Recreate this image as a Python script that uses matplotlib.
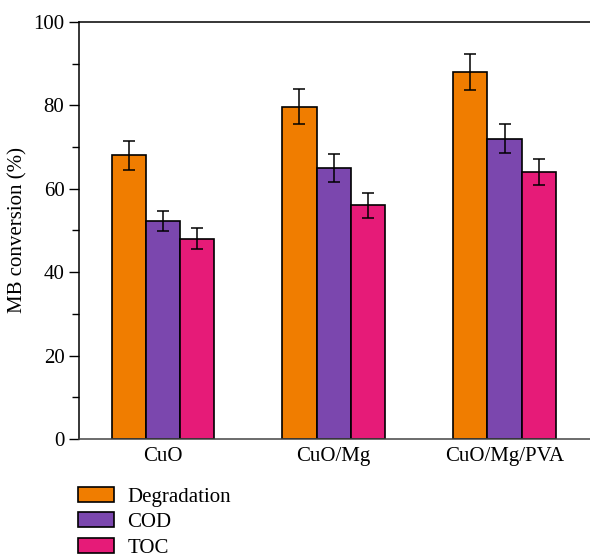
import numpy as np
import matplotlib
matplotlib.use("Agg")
import matplotlib.pyplot as plt
from matplotlib.ticker import MultipleLocator

plt.rcParams["font.family"] = ["Liberation Serif", "DejaVu Serif"]

catalysts = ["CuO", "CuO/Mg", "CuO/Mg/PVA"]
series = ["Degradation", "COD", "TOC"]
degradation = [68, 79.7, 88]
degradation_err = [3.5, 4.2, 4.3]
cod = [52.2, 65, 72]
cod_err = [2.4, 3.4, 3.5]
toc = [48, 56, 64]
toc_err = [2.5, 2.9, 3.1]
colors = ["#F07D00", "#7B47AE", "#E61B78"]

fig = plt.figure(figsize=(5.9, 5.59), dpi=100)
ax = fig.add_axes([0.134, 0.2147, 0.866, 0.746])

x = np.arange(len(catalysts))
w = 0.2
vals = [degradation, cod, toc]
errs = [degradation_err, cod_err, toc_err]
for i, (v, e) in enumerate(zip(vals, errs)):
    ax.bar(x + (i - 1) * w, v, w, color=colors[i], edgecolor="black",
           linewidth=1.2, label=series[i], zorder=2,
           yerr=e, capsize=4.5,
           error_kw=dict(ecolor="black", elinewidth=1.1, capthick=1.1))

ax.set_xlim(-0.49, 2.5)
ax.set_ylim(0, 100)
ax.set_xticks(x)
ax.set_xticklabels(catalysts, fontsize=15)
ax.tick_params(axis="x", length=0, pad=6)
ax.yaxis.set_major_locator(MultipleLocator(20))
ax.yaxis.set_minor_locator(MultipleLocator(10))
ax.tick_params(axis="y", which="major", direction="out", length=7, width=1, labelsize=15)
ax.tick_params(axis="y", which="minor", direction="out", length=5, width=1)
ax.set_ylabel("MB conversion (%)", fontsize=15, labelpad=4)
ax.spines["right"].set_visible(False)
for s in ["left", "bottom", "top"]:
    ax.spines[s].set_linewidth(1.1)
ax.spines["bottom"].set_color("#444444")

fig.legend(loc="lower left", bbox_to_anchor=(0.101, -0.031), frameon=False,
           fontsize=15, handlelength=1.7, handleheight=0.75,
           labelspacing=0.27, handletextpad=0.65)

plt.savefig("out.png")
plt.close()
